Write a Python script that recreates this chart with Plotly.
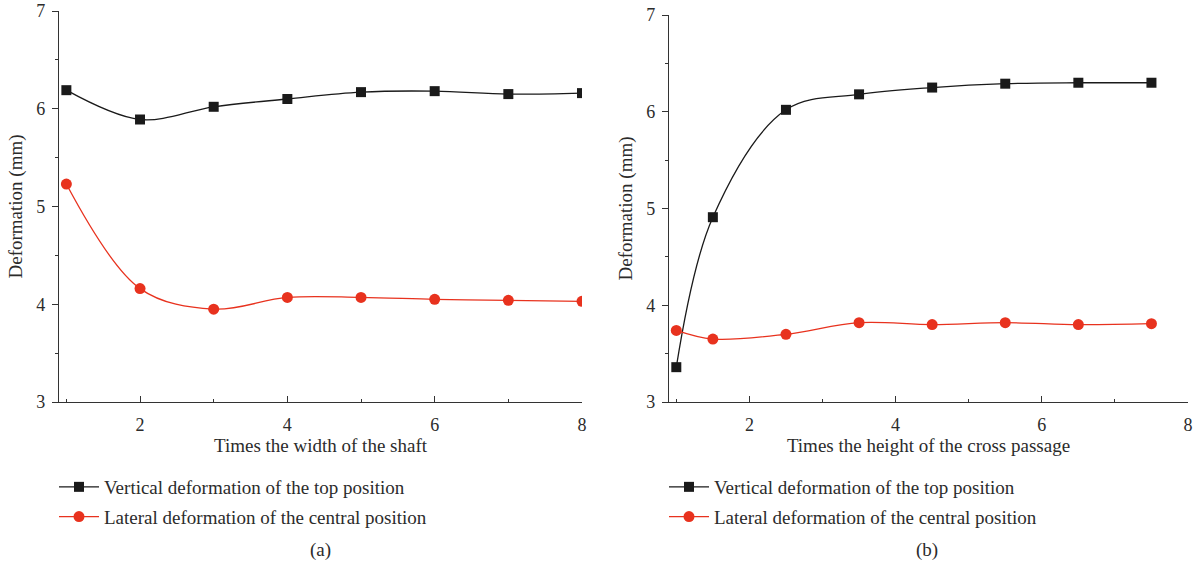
import plotly.graph_objects as go

# Panel (a): times the width of the shaft
width_x = [1, 2, 3, 4, 5, 6, 7, 8]
width_top_vertical = [6.19, 5.89, 6.02, 6.10, 6.17, 6.18, 6.15, 6.16]
width_central_lateral = [5.23, 4.16, 3.95, 4.07, 4.07, 4.05, 4.04, 4.03]

# Panel (b): times the height of the cross passage
height_x = [1, 1.5, 2.5, 3.5, 4.5, 5.5, 6.5, 7.5]
height_top_vertical = [3.36, 4.91, 6.02, 6.18, 6.25, 6.29, 6.30, 6.30]
height_central_lateral = [3.74, 3.65, 3.70, 3.82, 3.80, 3.82, 3.80, 3.81]

series_names = ["Vertical deformation of the top position",
                "Lateral deformation of the central position"]
x_titles = ["Times the width of the shaft", "Times the height of the cross passage"]
captions = ["(a)", "(b)"]

FONT = "Liberation Serif"
BLACK = "#1a1a1a"
RED = "#e8321e"
TEXT = "#2b2b2b"
AXIS = "#333333"

W, H = 1202, 567

fig = go.Figure()

panels = [
    (width_x, width_top_vertical, width_central_lateral, "x", "y", "legend"),
    (height_x, height_top_vertical, height_central_lateral, "x2", "y2", "legend2"),
]
for xs, top, lat, xa, ya, lg in panels:
    fig.add_trace(go.Scatter(
        x=xs, y=top, name=series_names[0], xaxis=xa, yaxis=ya, legend=lg,
        mode="lines+markers", line=dict(color=BLACK, width=1.3, shape="spline"),
        marker=dict(symbol="square", size=10, color=BLACK),
        legendgroup=lg + "a",
    ))
    fig.add_trace(go.Scatter(
        x=xs, y=lat, name=series_names[1], xaxis=xa, yaxis=ya, legend=lg,
        mode="lines+markers", line=dict(color=RED, width=1.3, shape="spline"),
        marker=dict(symbol="circle", size=11, color=RED),
        legendgroup=lg + "b",
    ))


def px_x(p):
    return p / W


def px_y(p):
    return 1 - p / H


title_font = dict(family=FONT, size=19, color=TEXT)
tick_font = dict(family=FONT, size=18, color=TEXT)

xaxis_common = dict(
    range=[0.9, 8], tick0=0, dtick=2, ticks="inside", ticklen=6, tickwidth=1,
    tickcolor=AXIS, showline=True, linecolor=AXIS, linewidth=1.2,
    showgrid=False, zeroline=False, mirror=False, automargin=False,
    tickfont=tick_font, ticklabelstandoff=6,
    minor=dict(dtick=1, ticks="inside", ticklen=3, tickcolor=AXIS, showgrid=False),
)
yaxis_common = dict(
    range=[3, 7], dtick=1, ticks="outside", ticklen=6, tickwidth=1,
    tickcolor=AXIS, showline=True, linecolor=AXIS, linewidth=1.2,
    showgrid=False, zeroline=False, automargin=False,
    tickfont=tick_font, ticklabelstandoff=3,
    minor=dict(dtick=0.5, ticks="outside", ticklen=3, tickcolor=AXIS, showgrid=False),
    title=dict(text="Deformation (mm)", font=title_font, standoff=8),
)

legend_common = dict(
    xanchor="left", yanchor="top", font=title_font, tracegroupgap=2,
    itemwidth=40, bgcolor="rgba(0,0,0,0)",
)

fig.update_layout(
    width=W, height=H,
    margin=dict(l=0, r=0, t=0, b=0),
    paper_bgcolor="white", plot_bgcolor="white",
    xaxis=dict(domain=[px_x(59), px_x(582)], anchor="y", **xaxis_common,
               title=dict(text=x_titles[0], font=title_font, standoff=3)),
    yaxis=dict(domain=[px_y(402), px_y(11)], anchor="x", **yaxis_common),
    xaxis2=dict(domain=[px_x(669), px_x(1188)], anchor="y2", **xaxis_common,
                title=dict(text=x_titles[1], font=title_font, standoff=3)),
    yaxis2=dict(domain=[px_y(402), px_y(15)], anchor="x2", **yaxis_common),
    legend=dict(x=px_x(54), y=px_y(468), **legend_common),
    legend2=dict(x=px_x(664), y=px_y(468), **legend_common),
    showlegend=True,
)

for cap, cx in zip(captions, [320, 927]):
    fig.add_annotation(text=cap, x=px_x(cx), y=px_y(550), xref="paper", yref="paper",
                       xanchor="center", yanchor="middle",
                       showarrow=False, font=title_font)

fig.write_html("out.html")
